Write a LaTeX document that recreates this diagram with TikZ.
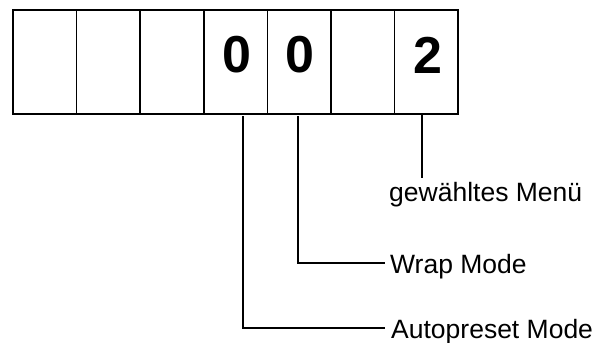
\documentclass[tikz,border=0pt]{standalone}
\usepackage{fontspec}
\setmainfont{Liberation Sans}
\begin{document}
\begin{tikzpicture}[x=1pt,y=1pt,
  cell/.style={draw=black,line width=1.6pt,minimum width=63.6pt,minimum height=104pt,inner sep=0pt,outer sep=0pt},
  digit/.style={font=\fontsize{52}{52}\selectfont\bfseries,inner sep=0pt},
  lbl/.style={font=\fontsize{26.5}{27}\selectfont,inner sep=0pt,anchor=base west},
  conn/.style={draw=black,line width=2.6pt}]
\useasboundingbox (0,0) rectangle (614,-343);
\foreach \i in {1,...,7}{
  \node[cell] (c\i) at ({13+63.6*(\i-0.5)},-62) {};
}
\node[digit] (d4) at (236.5,-55) {0};
\node[digit] (d5) at (299.5,-55) {0};
\node[digit] (d7) at (428,-55) {2};
\node[lbl] (lmenu) at (389,-201.5) {gewähltes Menü};
\node[lbl] (lwrap) at (390,-273) {Wrap Mode};
\node[lbl] (lauto) at (391,-338) {Autopreset Mode};
\coordinate (t4) at (243,-116);
\coordinate (t5) at (298,-116);
\coordinate (t7) at (422,-115);
\coordinate (k4) at (385,-328);
\coordinate (k5) at (385,-263);
\coordinate (k7) at (422,-178);
\draw[conn] (t4) |- (k4);
\draw[conn] (t5) |- (k5);
\draw[conn] (t7) -- (k7);
\end{tikzpicture}
\end{document}
